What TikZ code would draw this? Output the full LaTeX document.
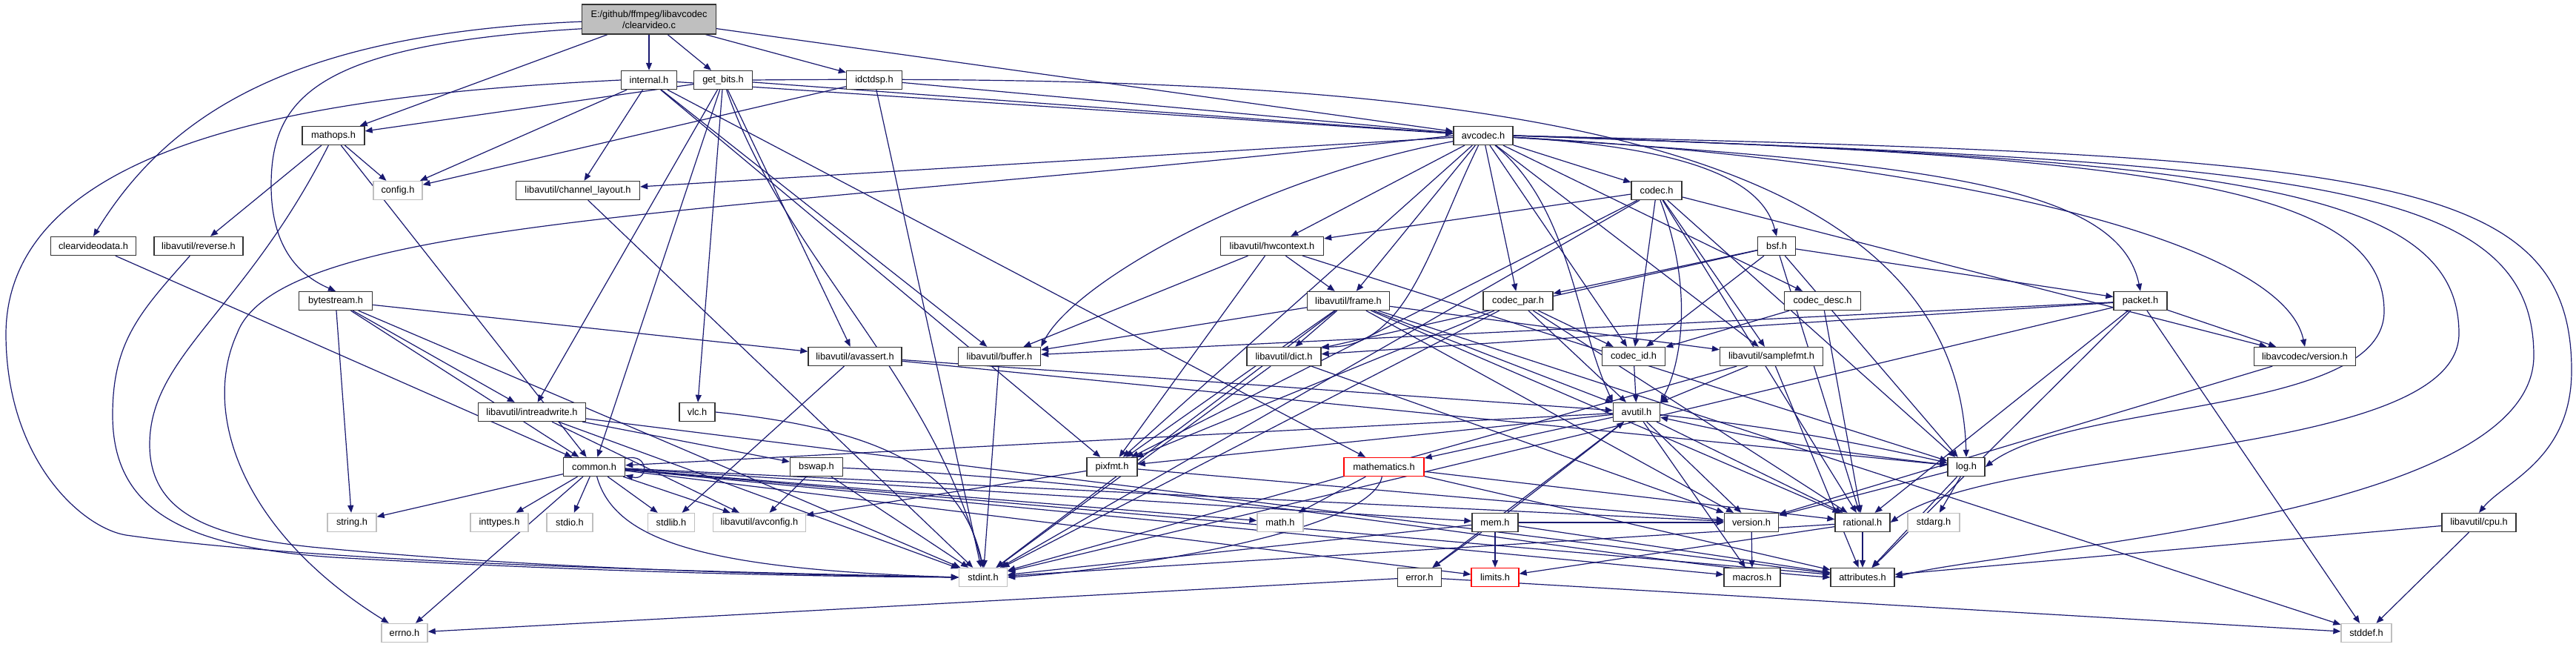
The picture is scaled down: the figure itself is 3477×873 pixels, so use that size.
\documentclass[tikz,border=0pt]{standalone}
\usepackage{fontspec}
\setmainfont{Liberation Sans}
\usetikzlibrary{arrows.meta}
\definecolor{edgec}{HTML}{191970}
\definecolor{grayb}{HTML}{BFBFBF}
\pgfdeclarelayer{background}
\pgfsetlayers{background,main}
\begin{document}
\begin{tikzpicture}[x=0.75pt,y=-0.75pt,
  nd/.style={draw=black!80,line width=1pt,fill=white,minimum height=18.75pt,inner sep=0pt,font=\fontsize{9.6}{11.25}\selectfont},
  sys/.style={nd,draw=grayb},
  trunc/.style={nd,draw=red},
  mw/.style={minimum width=#1*0.75pt},
  e/.style={draw=edgec,line width=0.9pt,-{Triangle[length=7.5pt,width=6pt]}},
]
\useasboundingbox (0,0) rectangle (3477,873);
% ---- nodes ----
\node[nd,fill=grayb,mw=181,minimum height=30pt,align=center] (root) at (876,26) {E:/github/ffmpeg/libavcodec\\/clearvideo.c};
\node[nd,mw=75] (internal) at (876,108) {internal.h};
\node[nd,mw=79] (getbits) at (976,108) {get\_bits.h};
\node[nd,mw=75] (idctdsp) at (1180,108) {idctdsp.h};
\node[nd,mw=84] (mathops) at (450,183) {mathops.h};
\node[nd,mw=80] (avcodec) at (2002,183) {avcodec.h};
\node[sys,mw=66] (config) at (537,257) {config.h};
\node[nd,mw=167] (chlayout) at (780,257) {libavutil/channel\_layout.h};
\node[nd,mw=68] (codec) at (2236,257) {codec.h};
\node[nd,mw=115] (cvdata) at (126,332) {clearvideodata.h};
\node[nd,mw=120] (reverse) at (268,332) {libavutil/reverse.h};
\node[nd,mw=139] (hwcontext) at (1717,332) {libavutil/hwcontext.h};
\node[nd,mw=51] (bsf) at (2398,332) {bsf.h};
\node[nd,mw=99] (bytestream) at (453,406) {bytestream.h};
\node[nd,mw=111] (frame) at (1820,406) {libavutil/frame.h};
\node[nd,mw=94] (codecpar) at (2049,406) {codec\_par.h};
\node[nd,mw=103] (codecdesc) at (2460,406) {codec\_desc.h};
\node[nd,mw=72] (packet) at (2889,406) {packet.h};
\node[nd,mw=126] (avassert) at (1154,481) {libavutil/avassert.h};
\node[nd,mw=111] (buffer) at (1349,481) {libavutil/buffer.h};
\node[nd,mw=100] (dict) at (1733,481) {libavutil/dict.h};
\node[nd,mw=85] (codecid) at (2205,481) {codec\_id.h};
\node[nd,mw=139] (samplefmt) at (2391,481) {libavutil/samplefmt.h};
\node[nd,mw=137] (lavcversion) at (3111,481) {libavcodec/version.h};
\node[nd,mw=145] (intreadwrite) at (718,556) {libavutil/intreadwrite.h};
\node[nd,mw=48] (vlc) at (941,556) {vlc.h};
\node[nd,mw=63] (avutil) at (2209,556) {avutil.h};
\node[nd,mw=83] (common) at (802,630) {common.h};
\node[nd,mw=71] (bswap) at (1102,630) {bswap.h};
\node[nd,mw=68] (pixfmt) at (1501,630) {pixfmt.h};
\node[trunc,mw=108] (mathematics) at (1868,630) {mathematics.h};
\node[nd,mw=50] (log) at (2654,630) {log.h};
\node[sys,mw=66] (string) at (475,705) {string.h};
\node[sys,mw=78] (inttypes) at (674,705) {inttypes.h};
\node[sys,mw=62] (stdio) at (769,705) {stdio.h};
\node[sys,mw=63] (stdlib) at (906,705) {stdlib.h};
\node[sys,mw=125] (avconfig) at (1025,705) {libavutil/avconfig.h};
\node[sys,mw=62] (math) at (1728,705) {math.h};
\node[nd,mw=62] (mem) at (2018,705) {mem.h};
\node[nd,mw=73] (version) at (2364,705) {version.h};
\node[nd,mw=74] (rational) at (2514,705) {rational.h};
\node[sys,mw=70] (stdarg) at (2610,705) {stdarg.h};
\node[nd,mw=100] (cpu) at (3346,705) {libavutil/cpu.h};
\node[sys,mw=65] (stdint) at (1327,779) {stdint.h};
\node[nd,mw=59] (error) at (1916,779) {error.h};
\node[trunc,mw=64] (limits) at (2018,779) {limits.h};
\node[nd,mw=76] (macros) at (2365,779) {macros.h};
\node[nd,mw=86] (attributes) at (2514,779) {attributes.h};
\node[sys,mw=62] (errno) at (546,854) {errno.h};
\node[sys,mw=68] (stddef) at (3194,854) {stddef.h};
% ---- edges ----
\begin{pgfonlayer}{background}
\fill[white] (0,0) rectangle (3477,873);
% root
\draw[e] (root) -- (internal);
\draw[e] (root) -- (getbits);
\draw[e] (root) -- (idctdsp);
\draw[e] (root) -- (avcodec);
\draw[e] (root) -- (mathops);
\draw[e] (root.182) .. controls (400,45) and (230,150) .. (cvdata.north);
\draw[e] (root.188) .. controls (430,60) and (366,130) .. (366,250) .. controls (366,330) and (400,370) .. (bytestream.north);
% internal
\draw[e] (internal.west) .. controls (500,125) and (10,170) .. (8,450) .. controls (8,620) and (110,712) .. (170,722) .. controls (450,762) and (1000,772) .. (stdint.west);
\draw[e] (internal) -- (buffer);
\draw[e] (internal) -- (chlayout);
\draw[e] (internal) -- (mathematics);
\draw[e] (internal) -- (pixfmt);
\draw[e] (internal) -- (avcodec);
\draw[e] (internal) -- (config);
% get_bits
\draw[e] (getbits) .. controls (1060,350) and (1255,500) .. (stdint.north);
\draw[e] (getbits) -- (common);
\draw[e] (getbits) -- (intreadwrite);
\draw[e] (getbits.east) .. controls (1900,100) and (2640,150) .. (log.north);
\draw[e] (getbits) -- (avassert);
\draw[e] (getbits) -- (avcodec);
\draw[e] (getbits) -- (mathops);
\draw[e] (getbits) -- (vlc);
% idctdsp
\draw[e] (idctdsp) -- (stdint);
\draw[e] (idctdsp) -- (config);
\draw[e] (idctdsp) -- (avcodec);
% mathops
\draw[e] (mathops) .. controls (330,420) and (202,480) .. (202,600) .. controls (202,700) and (300,725) .. (420,738) .. controls (750,770) and (1100,776) .. (stdint.west);
\draw[e] (mathops) -- (common);
\draw[e] (mathops) -- (config);
\draw[e] (mathops) -- (reverse);
% clearvideodata, reverse
\draw[e] (cvdata) -- (common);
\draw[e] (reverse) .. controls (190,420) and (152,460) .. (152,560) .. controls (152,690) and (250,738) .. (450,752) .. controls (800,772) and (1100,778) .. (stdint.west);
% bytestream
\draw[e] (bytestream) -- (stdint);
\draw[e] (bytestream) -- (string);
\draw[e] (bytestream) -- (avassert);
\draw[e] (bytestream) -- (common);
\draw[e] (bytestream) -- (intreadwrite);
% avcodec
\draw[e] (avcodec.west) .. controls (1000,290) and (380,290) .. (320,450) .. controls (270,560) and (330,720) .. (errno);
\draw[e] (avcodec) -- (samplefmt);
\draw[e] (avcodec.east) .. controls (3100,220) and (3420,240) .. (3420,480) .. controls (3420,700) and (2700,740) .. (attributes.east);
\draw[e] (avcodec) .. controls (2120,280) and (2125,430) .. (avutil.north west);
\draw[e] (avcodec) .. controls (1700,240) and (1450,380) .. (buffer.north east);
\draw[e] (avcodec.east) .. controls (3200,210) and (3471,230) .. (3471,500) .. controls (3471,620) and (3380,650) .. (cpu.north);
\draw[e] (avcodec) -- (chlayout);
\draw[e] (avcodec) .. controls (1930,330) and (1900,470) .. (dict.north east);
\draw[e] (avcodec) -- (frame);
\draw[e] (avcodec) -- (hwcontext);
\draw[e] (avcodec.east) .. controls (2900,210) and (3218,250) .. (3218,420) .. controls (3218,560) and (2800,540) .. (log.east);
\draw[e] (avcodec) -- (pixfmt);
\draw[e] (avcodec.east) .. controls (3000,215) and (3319,250) .. (3319,450) .. controls (3319,620) and (2700,600) .. (rational.east);
\draw[e] (avcodec) .. controls (2300,200) and (2380,250) .. (bsf.north);
\draw[e] (avcodec) -- (codec);
\draw[e] (avcodec) -- (codecdesc);
\draw[e] (avcodec) -- (codecpar);
\draw[e] (avcodec) -- (codecid);
\draw[e] (avcodec) .. controls (2600,220) and (2860,250) .. (packet.north);
\draw[e] (avcodec) .. controls (2600,215) and (3080,320) .. (lavcversion.north);
% codec
\draw[e] (codec) -- (stdint);
\draw[e] (codec) .. controls (2290,400) and (2265,500) .. (avutil.north east);
\draw[e] (codec) -- (hwcontext);
\draw[e] (codec) -- (log);
\draw[e] (codec) -- (pixfmt);
\draw[e] (codec) -- (rational);
\draw[e] (codec) -- (samplefmt);
\draw[e] (codec) -- (codecid);
\draw[e] (codec) -- (lavcversion);
% bsf
\draw[e] (bsf) -- (dict);
\draw[e] (bsf) -- (log);
\draw[e] (bsf) -- (rational);
\draw[e] (bsf) -- (codecid);
\draw[e] (bsf) -- (codecpar);
\draw[e] (bsf) -- (packet);
% codec_desc, codec_par, codec_id
\draw[e] (codecdesc) -- (rational);
\draw[e] (codecdesc) -- (codecid);
\draw[e] (codecpar) -- (stdint);
\draw[e] (codecpar) -- (avutil);
\draw[e] (codecpar) -- (rational);
\draw[e] (codecpar) -- (pixfmt);
\draw[e] (codecpar) -- (codecid);
\draw[e] (codecid) -- (avutil);
% packet
\draw[e] (packet) -- (stddef);
\draw[e] (packet) -- (stdint);
\draw[e] (packet) -- (attributes);
\draw[e] (packet) -- (buffer);
\draw[e] (packet) -- (dict);
\draw[e] (packet) -- (rational);
\draw[e] (packet) -- (lavcversion);
\draw[e] (lavcversion) -- (version);
% hwcontext
\draw[e] (hwcontext) -- (buffer);
\draw[e] (hwcontext) -- (frame);
\draw[e] (hwcontext) -- (log);
\draw[e] (hwcontext) -- (pixfmt);
% frame
\draw[e] (frame) -- (stddef);
\draw[e] (frame) -- (stdint);
\draw[e] (frame) -- (avutil);
\draw[e] (frame) -- (buffer);
\draw[e] (frame) -- (dict);
\draw[e] (frame) -- (rational);
\draw[e] (frame) -- (samplefmt);
\draw[e] (frame) -- (pixfmt);
\draw[e] (frame) -- (version);
% misc row 6
\draw[e] (chlayout) -- (stdint);
\draw[e] (avassert) -- (stdlib);
\draw[e] (avassert) -- (avutil);
\draw[e] (avassert) -- (log);
\draw[e] (buffer) -- (stdint);
\draw[e] (dict) -- (stdint);
\draw[e] (dict) -- (version);
\draw[e] (samplefmt) -- (stdint);
\draw[e] (samplefmt) -- (avutil);
\draw[e] (samplefmt) -- (attributes);
% avutil
\draw[e] (avutil) -- (common);
\draw[e] (avutil) -- (error);
\draw[e] (avutil) -- (rational);
\draw[e] (avutil) -- (version);
\draw[e] (avutil) -- (macros);
\draw[e] (avutil) -- (mathematics);
\draw[e] (avutil) to[bend left=3] (log);
\draw[e] (avutil) -- (pixfmt);
% common
\draw[e] (common) -- (errno);
\draw[e] (common) -- (inttypes);
\draw[e] (common) -- (limits);
\draw[e] (common) -- (math);
\draw[e] (common) .. controls (830,730) and (950,768) .. (stdint.west);
\draw[e] (common) -- (stdio);
\draw[e] (common) -- (stdlib);
\draw[e] (common) -- (string);
\draw[e] (common) -- (attributes);
\draw[e] (common) -- (macros);
\draw[e] (common) -- (version);
\draw[e] (common) -- (avconfig);
\draw[e] (common) -- (mem);
\draw[e] (common) to[out=15,in=-15,min distance=25pt] (common);
% mathematics
\draw[e] (mathematics) .. controls (1850,720) and (1500,770) .. (stdint.east);
\draw[e] (mathematics) -- (math);
\draw[e] (mathematics) -- (attributes);
\draw[e] (mathematics) -- (rational);
% log
\draw[e] (log) -- (stdarg);
\draw[e] (log) to[bend left=3] (avutil);
\draw[e] (log) -- (attributes);
\draw[e] (log) -- (version);
% pixfmt, bswap, intreadwrite, vlc
\draw[e] (pixfmt) -- (avconfig);
\draw[e] (pixfmt) -- (version);
\draw[e] (bswap) -- (stdint);
\draw[e] (bswap) -- (avconfig);
\draw[e] (bswap) .. controls (1600,650) and (2200,760) .. (attributes.west);
\draw[e] (intreadwrite) -- (stdint);
\draw[e] (intreadwrite) -- (avconfig);
\draw[e] (intreadwrite) -- (attributes);
\draw[e] (intreadwrite) -- (bswap);
\draw[e] (vlc.east) .. controls (1200,580) and (1300,640) .. (stdint.north);
% mem
\draw[e] (mem) -- (limits);
\draw[e] (mem) -- (stdint);
\draw[e] (mem) -- (attributes);
\draw[e] (mem) -- (error);
\draw[e] (mem) -- (avutil);
\draw[e] (mem) -- (version);
% error, rational, version, cpu
\draw[e] (error) -- (errno);
\draw[e] (error) -- (stddef);
\draw[e] (rational) -- (stdint);
\draw[e] (rational) -- (limits);
\draw[e] (rational) -- (attributes);
\draw[e] (version) -- (macros);
\draw[e] (cpu) -- (stddef);
\draw[e] (cpu) -- (attributes);
\end{pgfonlayer}
\end{tikzpicture}
\end{document}
